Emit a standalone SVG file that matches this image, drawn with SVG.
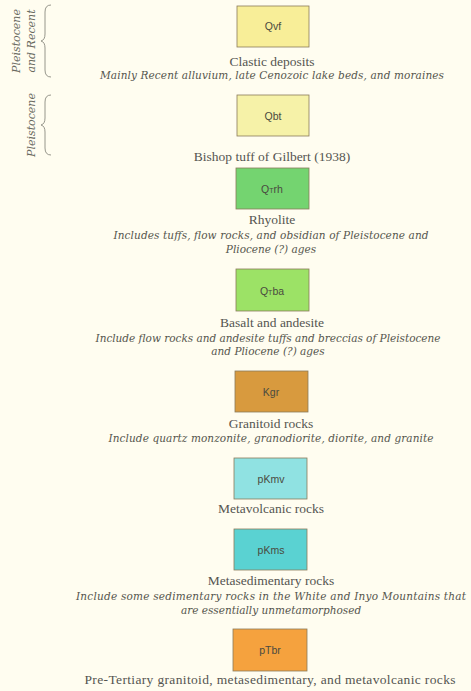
<svg xmlns="http://www.w3.org/2000/svg" width="471" height="691" viewBox="0 0 471 691">
<style>
.bg{fill:#fffdf0}
.box{stroke:#8a7a5a;stroke-width:0.8}
.code{font-family:"Liberation Sans",Arial,sans-serif;font-size:10.5px;fill:#4a4a40;text-anchor:middle}
.name{font-family:"Liberation Serif","Times New Roman",serif;font-size:13.5px;fill:#555550;text-anchor:middle}
.desc{font-family:"DejaVu Serif",serif;font-size:10.5px;font-style:italic;fill:#55554d;text-anchor:middle}
.age{font-family:"DejaVu Serif",serif;font-size:11px;font-style:italic;fill:#6a6a60;text-anchor:middle}
.brace{fill:none;stroke:#8a8a80;stroke-width:0.9}
</style>
<rect class="bg" x="0" y="0" width="471" height="691"/>
<g id="connectors">
<path class="brace" d="M51,5 Q45,5 45,12 L45,34 Q45,40 41,41 Q45,42 45,48 L45,70 Q45,77 51,77"/>
<path class="brace" d="M51,95 Q45,95 45,102 L45,118 Q45,124 41,125 Q45,126 45,132 L45,148 Q45,155 51,155"/>
</g>
<g id="age1">
<text class="age" transform="translate(20,41) rotate(-90)">Pleistocene</text>
<text class="age" transform="translate(35,41) rotate(-90)">and Recent</text>
</g>
<g id="age2">
<text class="age" transform="translate(35,125) rotate(-90)">Pleistocene</text>
</g>
<g id="Qvf">
<rect class="box" x="237" y="6" width="72" height="41" fill="#f8ee98"/>
<text class="code" x="273" y="30">Qvf</text>
<text class="name" x="272" y="66">Clastic deposits</text>
<text class="desc" x="272" y="79" textLength="344" lengthAdjust="spacing">Mainly Recent alluvium, late Cenozoic lake beds, and moraines</text>
</g>
<g id="Qbt">
<rect class="box" x="237" y="95" width="72" height="41" fill="#f6f2a8"/>
<text class="code" x="273" y="120">Qbt</text>
<text class="name" x="272" y="161">Bishop tuff of Gilbert (1938)</text>
</g>
<g id="QTrh">
<rect class="box" x="236" y="168" width="73" height="41" fill="#74d470"/>
<text class="code" x="272" y="193">Q<tspan font-size="7">T</tspan>rh</text>
<text class="name" x="272" y="224">Rhyolite</text>
<text class="desc" x="271" y="239" textLength="315" lengthAdjust="spacing">Includes tuffs, flow rocks, and obsidian of Pleistocene and</text>
<text class="desc" x="271" y="253">Pliocene (?) ages</text>
</g>
<g id="QTba">
<rect class="box" x="236" y="269" width="73" height="42" fill="#9ce266"/>
<text class="code" x="272" y="295">Q<tspan font-size="7">T</tspan>ba</text>
<text class="name" x="272" y="327">Basalt and andesite</text>
<text class="desc" x="268" y="342" textLength="345" lengthAdjust="spacing">Include flow rocks and andesite tuffs and breccias of Pleistocene</text>
<text class="desc" x="268" y="355">and Pliocene (?) ages</text>
</g>
<g id="Kgr">
<rect class="box" x="235" y="371" width="73" height="41" fill="#d89a3e"/>
<text class="code" x="271" y="396">Kgr</text>
<text class="name" x="271" y="428">Granitoid rocks</text>
<text class="desc" x="271" y="442" textLength="325" lengthAdjust="spacing">Include quartz monzonite, granodiorite, diorite, and granite</text>
</g>
<g id="pKmv">
<rect class="box" x="234" y="458" width="73" height="41" fill="#90e2e2"/>
<text class="code" x="271" y="483">pKmv</text>
<text class="name" x="271" y="513">Metavolcanic rocks</text>
</g>
<g id="pKms">
<rect class="box" x="234" y="529" width="73" height="41" fill="#5ad2d2"/>
<text class="code" x="271" y="554">pKms</text>
<text class="name" x="271" y="585">Metasedimentary rocks</text>
<text class="desc" x="271" y="600" textLength="390" lengthAdjust="spacing">Include some sedimentary rocks in the White and Inyo Mountains that</text>
<text class="desc" x="271" y="614">are essentially unmetamorphosed</text>
</g>
<g id="pTbr">
<rect class="box" x="233" y="629" width="74" height="42" fill="#f5a23e"/>
<text class="code" x="270" y="654">pTbr</text>
<text class="name" x="270" y="684" textLength="371" lengthAdjust="spacing">Pre-Tertiary granitoid, metasedimentary, and metavolcanic rocks</text>
</g>
</svg>
